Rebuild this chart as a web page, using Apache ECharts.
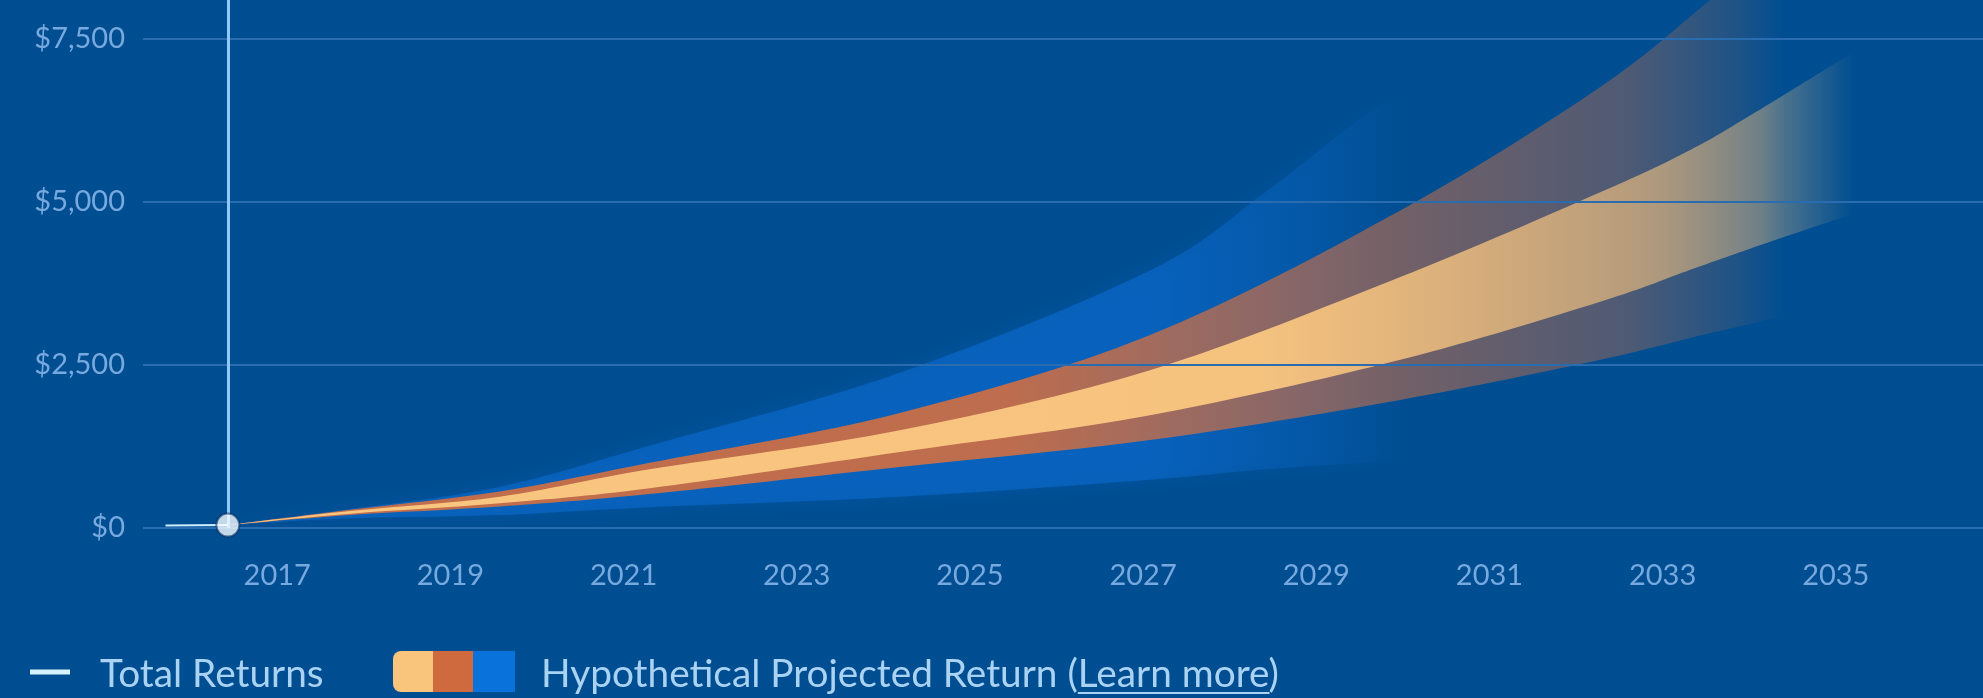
<!DOCTYPE html>
<html>
<head>
<meta charset="utf-8">
<script src="https://cdn.jsdelivr.net/npm/echarts@6/dist/echarts.min.js"></script>
<style>
html,body{margin:0;padding:0;background:#004e92;}
#chart{width:1983px;height:698px;}
</style>
</head>
<body>
<div id="chart"></div>
<script>
// ---- data ----
const xTickYears = [2017, 2019, 2021, 2023, 2025, 2027, 2029, 2031, 2033, 2035];
const yTickValues = [0, 2500, 5000, 7500];

const totalYears = [2015.71, 2016.05, 2016.43];
const totalValues = [40, 42, 45];
const currentYear = 2016.43;

// outer band (blue)
const blueYears = [2016.43, 2017.84, 2019.57, 2021.3, 2024.19, 2027.08, 2028.41, 2029.58, 2030.0];
const blueUpper = [45, 290, 630, 1260, 2380, 3950, 5150, 6350, 6600];
const blueLower = [45, 150, 200, 320, 480, 740, 900, 1000, 1030];

// middle band (orange-brown)
const brownYears = [2016.43, 2017.84, 2019.57, 2021.3, 2024.19, 2027.08, 2029.97, 2032.28, 2033.55, 2034.4];
const brownUpper = [45, 280, 560, 1000, 1765, 2960, 4870, 6765, 8100, 9000];
const brownLower = [45, 200, 330, 520, 935, 1350, 1965, 2580, 2990, 3250];

// inner band (light orange)
const yellowYears = [2016.43, 2017.84, 2019.57, 2021.3, 2024.19, 2027.08, 2029.97, 2032.28, 2033.32, 2034.0, 2035.2];
const yellowUpper = [45, 260, 480, 900, 1500, 2420, 3850, 5150, 5800, 6320, 7300];
const yellowLower = [45, 220, 380, 610, 1165, 1730, 2580, 3470, 3960, 4280, 4820];

// ---- drawing ----
const FONT = 'Lato';
const chart = echarts.init(document.getElementById('chart'));

function curvePath(pts, first) {
  let d = first ? 'M' : 'L';
  d += pts[0][0] + ' ' + pts[0][1];
  const n = pts.length;
  for (let i = 0; i < n - 1; i++) {
    const p0 = pts[Math.max(i - 1, 0)], p1 = pts[i], p2 = pts[i + 1], p3 = pts[Math.min(i + 2, n - 1)];
    const c1x = p1[0] + (p2[0] - p0[0]) / 6, c1y = p1[1] + (p2[1] - p0[1]) / 6;
    const c2x = p2[0] - (p3[0] - p1[0]) / 6, c2y = p2[1] - (p3[1] - p1[1]) / 6;
    d += 'C' + c1x + ' ' + c1y + ' ' + c2x + ' ' + c2y + ' ' + p2[0] + ' ' + p2[1];
  }
  return d;
}

function bandSeries(name, years, upper, lower, color, stops, extraStyle) {
  return {
    type: 'custom',
    name: name,
    silent: true,
    clip: true,
    data: [[years[0], lower[0]]],
    encode: {x: 0, y: 1},
    renderItem: function (params, api) {
      const up = years.map((y, i) => api.coord([y, upper[i]]));
      const lo = years.map((y, i) => api.coord([y, lower[i]])).reverse();
      const d = curvePath(up, true) + curvePath(lo, false) + 'Z';
      const x0 = api.coord([years[0], 0])[0];
      const x1 = api.coord([years[years.length - 1], 0])[0];
      const cs = stops.map(s => ({offset: s[0], color: 'rgba(' + color + ',' + s[1] + ')'}));
      return {
        type: 'path',
        shape: {pathData: d},
        style: Object.assign({fill: new echarts.graphic.LinearGradient(x0, 0, x1, 0, cs, true)}, extraStyle || {})
      };
    }
  };
}

// measure legend text for underline
const mctx = document.createElement('canvas').getContext('2d');
mctx.font = '38.8px ' + FONT;
const legText2a = 'Hypothetical Projected Return (';
const legText2b = 'Learn more';
const legX2 = 541;
const ulStart = legX2 + mctx.measureText(legText2a).width;
const ulEnd = ulStart + mctx.measureText(legText2b).width;

const option = {
  backgroundColor: '#004e92',
  animation: false,
  grid: {left: 143, right: 0, top: 0, bottom: 170},
  xAxis: {
    type: 'value',
    min: 2015.45,
    max: 2036.7,
    splitLine: {show: false},
    axisLine: {show: false},
    axisTick: {show: false},
    axisLabel: {
      customValues: xTickYears,
      formatter: v => String(v),
      color: '#77a9df',
      fontFamily: FONT,
      fontSize: 29,
      margin: 33
    }
  },
  yAxis: {
    type: 'value',
    min: 0,
    max: 8100,
    axisLine: {show: false},
    axisTick: {show: false},
    splitLine: {show: false},
    axisLabel: {
      customValues: yTickValues,
      formatter: v => '$' + v.toLocaleString('en-US'),
      color: '#77a9df',
      fontFamily: FONT,
      fontSize: 29,
      margin: 18
    }
  },
  series: [
    {
      type: 'line',
      name: 'grid',
      data: [],
      silent: true,
      markLine: {
        silent: true,
        symbol: 'none',
        label: {show: false},
        lineStyle: {color: '#2a6cb0', width: 2, type: 'solid'},
        data: yTickValues.map(v => ({yAxis: v}))
      },
      z: 1
    },
    bandSeries('blue', blueYears, blueUpper, blueLower, '15,115,225',
      [[0, 0.45], [0.78, 0.45], [0.92, 0.2], [1, 0]],
      {shadowBlur: 14, shadowColor: 'rgba(15,115,225,0.35)'}),
    bandSeries('brown', brownYears, brownUpper, brownLower, '205,110,68',
      [[0, 0.95], [0.5, 0.92], [0.72, 0.6], [0.8, 0.5], [0.9, 0.38], [0.97, 0.15], [1, 0]]),
    bandSeries('yellow', yellowYears, yellowUpper, yellowLower, '249,198,128',
      [[0, 1], [0.63, 0.97], [0.79, 0.72], [0.885, 0.58], [0.944, 0.4], [1, 0]]),
    {
      type: 'line',
      name: 'Total Returns',
      data: totalYears.map((y, i) => [y, totalValues[i]]),
      showSymbol: false,
      lineStyle: {color: '#cfefff', width: 2},
      markLine: {
        silent: true,
        symbol: 'none',
        label: {show: false},
        lineStyle: {color: '#8ec9f7', width: 3, type: 'solid'},
        data: [{xAxis: currentYear}]
      },
      z: 5
    },
    {
      type: 'scatter',
      data: [[currentYear, totalValues[totalValues.length - 1]]],
      symbolSize: 23,
      itemStyle: {color: '#f4fbff', borderColor: 'rgba(0,40,90,0.7)', borderWidth: 2},
      z: 6
    }
  ],
  graphic: [
    {type: 'line', shape: {x1: 30, y1: 672, x2: 70, y2: 672}, style: {stroke: '#d8f3ff', lineWidth: 5}},
    {type: 'text', left: 100, top: 655, style: {text: 'Total Returns', font: '38.8px ' + FONT, fill: '#a9d2f3'}},
    {type: 'rect', shape: {x: 393, y: 651, width: 40, height: 41, r: [8, 0, 0, 8]}, style: {fill: '#f9c57c'}},
    {type: 'rect', shape: {x: 433, y: 651, width: 40, height: 41}, style: {fill: '#cf6a3e'}},
    {type: 'rect', shape: {x: 473, y: 651, width: 42, height: 41}, style: {fill: '#0a72db'}},
    {type: 'text', left: legX2, top: 655, style: {text: legText2a + legText2b + ')', font: '38.8px ' + FONT, fill: '#a9d2f3'}},
    {type: 'line', shape: {x1: ulStart, y1: 693, x2: ulEnd, y2: 693}, style: {stroke: '#a9d2f3', lineWidth: 2}}
  ]
};
chart.setOption(option);
</script>
</body>
</html>
